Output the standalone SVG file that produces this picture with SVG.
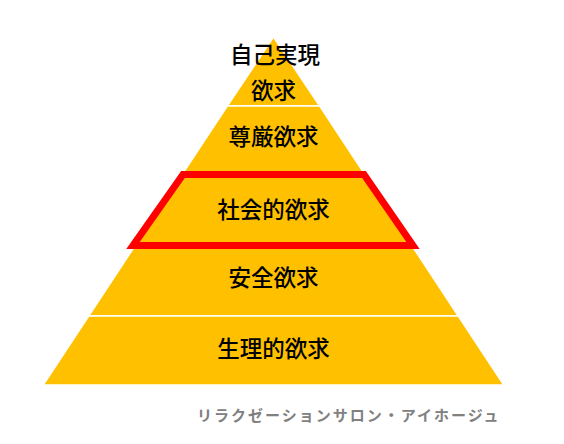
<svg xmlns="http://www.w3.org/2000/svg" width="564" height="444" viewBox="0 0 564 444">
<style>
.layer{fill:#FFC000;stroke:#FFFFFF;stroke-width:1.5;stroke-linejoin:miter}
.lbl{font-family:"Noto Sans CJK JP","Noto Sans CJK SC",sans-serif;font-size:22.5px;font-weight:500;fill:#000000;text-anchor:middle}
.hl{fill:none;stroke:#FF0000;stroke-width:7;stroke-linejoin:miter}
.foot{font-family:"Noto Sans CJK JP",sans-serif;font-size:15px;font-weight:bold;fill:#808080;letter-spacing:2px}
</style>
<rect width="564" height="444" fill="#FFFFFF"/>
<g id="layer-self">
<polygon class="layer" points="273.5,37 319.7,106 227.3,106"/>
<text class="lbl" x="275" y="63">自己実現</text>
<text class="lbl" x="273.5" y="99">欲求</text>
</g>
<g id="layer-esteem">
<polygon class="layer" points="227.3,106 319.7,106 365.9,176 181.1,176"/>
<text class="lbl" x="273.5" y="145">尊厳欲求</text>
</g>
<g id="layer-social">
<polygon class="layer" points="181.1,176 365.9,176 412.8,247 134.2,247"/>
<text class="lbl" x="273.5" y="218">社会的欲求</text>
</g>
<g id="layer-safety">
<polygon class="layer" points="134.2,247 412.8,247 458.3,316 88.7,316"/>
<text class="lbl" x="273.5" y="286">安全欲求</text>
</g>
<g id="layer-physio">
<polygon class="layer" points="88.7,316 458.3,316 503.8,385 43.2,385"/>
<text class="lbl" x="273.5" y="357">生理的欲求</text>
</g>
<g id="highlight">
<polygon class="hl" points="183,174.5 364,174.5 413,245.5 133,245.5"/>
</g>
<g id="connectors"></g>
<text class="foot" x="197" y="421">リラクゼーションサロン・アイホージュ</text>
</svg>
